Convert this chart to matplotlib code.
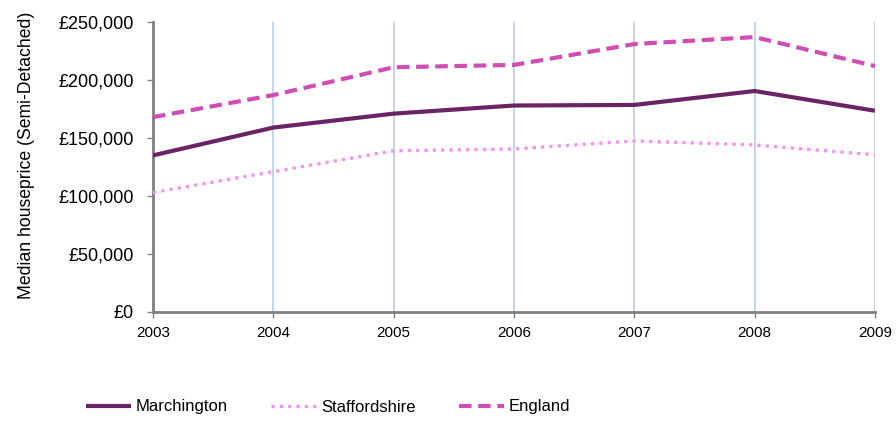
import matplotlib
matplotlib.use("Agg")
import matplotlib.pyplot as plt
from matplotlib.ticker import FuncFormatter

years = [2003, 2004, 2005, 2006, 2007, 2008, 2009]
marchington = [135000, 159000, 171000, 178000, 178500, 190500, 173500]
staffordshire = [103000, 121000, 139000, 140500, 147500, 144000, 135500]
england = [168000, 187000, 211000, 213000, 231000, 237000, 212000]

plt.rcParams['font.family'] = ['Liberation Sans', 'DejaVu Sans']

fig = plt.figure(figsize=(8.96, 4.21), dpi=100)
ax = fig.add_axes([153/896, 1-312/421, (875-153)/896, (312-22)/421])

ax.plot(years, marchington, color='#6A2466', lw=3.0, solid_capstyle='butt', label='Marchington', zorder=3)
ax.plot(years, staffordshire, color='#F595EE', lw=2.4, linestyle=(0, (1, 1.5)), label='Staffordshire', zorder=3)
ax.plot(years, england, color='#CF4DB4', lw=3.0, linestyle=(0, (3, 1.6)), label='England', zorder=3)

ax.set_xlim(2003, 2009)
ax.set_ylim(0, 250000)
ax.set_xticks(years)
ax.set_yticks(range(0, 250001, 50000))
ax.yaxis.set_major_formatter(FuncFormatter(lambda v, p: '£{:,.0f}'.format(v)))

ax.grid(axis='x', color='#B9CDE5', lw=1.2)
ax.set_axisbelow(True)
for s in ['top', 'right']:
    ax.spines[s].set_visible(False)
for s in ['left', 'bottom']:
    ax.spines[s].set_color('#808080')
    ax.spines[s].set_linewidth(2)
ax.tick_params(axis='both', colors='#808080', labelcolor='black', width=1, length=4)
ax.tick_params(axis='x', pad=6, labelsize=11)
ax.tick_params(axis='y', pad=10, labelsize=13)
ax.set_ylabel('Median houseprice (Semi-Detached)', fontsize=12.7)
ax.yaxis.set_label_coords(-0.163, 0.541)

fig.legend(loc='center', bbox_to_anchor=(0.366, 1-407/421), ncol=3, frameon=False,
           fontsize=12, handlelength=2.7, handletextpad=0.3, columnspacing=2.6)

fig.savefig('out.png', dpi=100)
